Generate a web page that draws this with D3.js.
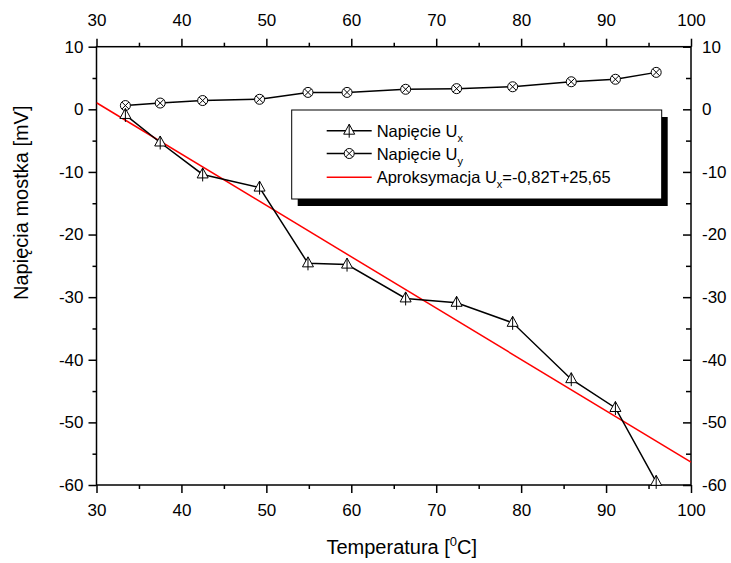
<!DOCTYPE html>
<html>
<head>
<meta charset="utf-8">
<script src="https://cdn.jsdelivr.net/npm/d3@7"></script>
<style>
  html, body { margin: 0; padding: 0; background: #fff; }
  svg { display: block; font-family: "Liberation Sans", Arial, sans-serif; }
</style>
</head>
<body>
<svg id="chart" width="731" height="563"></svg>
<script>
// Temperature of the bridge [°C]
const temperatures = [33.4, 37.5, 42.5, 49.2, 54.9, 59.5, 66.4, 72.4, 79.0, 85.9, 91.1, 95.9];
// Bridge voltage U_x [mV]
const voltageUx = [-0.9, -5.3, -10.4, -12.5, -24.6, -24.8, -30.2, -30.9, -34.1, -43.1, -47.7, -59.5];
// Bridge voltage U_y [mV]
const voltageUy = [0.6, 1.0, 1.4, 1.6, 2.7, 2.7, 3.2, 3.3, 3.6, 4.4, 4.8, 5.9];
// Linear approximation of U_x: U = a*T + b
const fitSlope = -0.82;
const fitIntercept = 25.65;

const xTicks = [30, 40, 50, 60, 70, 80, 90, 100];
const xMinorTicks = [35, 45, 55, 65, 75, 85, 95];
const yTicks = [10, 0, -10, -20, -30, -40, -50, -60];
const yMinorTicks = [5, -5, -15, -25, -35, -45, -55];

const svg = d3.select("#chart");
const plotLeft = 96.5, plotRight = 691, plotTop = 46.7, plotBottom = 485;

const x = d3.scaleLinear().domain([30, 100]).range([plotLeft, plotRight]);
const y = d3.scaleLinear().domain([-60, 10]).range([plotBottom, plotTop]);

const tickFont = 17;
// plain hyphen for negative numbers
const fmt = d => String(d);
const fmtComma = d => d.toFixed(2).replace(".", ",");

function styleAxis(g) {
  g.select(".domain").remove();
  g.selectAll("line").attr("stroke", "#000").attr("stroke-width", 1.5);
  g.selectAll("text").attr("font-size", tickFont).attr("fill", "#000")
    .attr("font-family", "Liberation Sans, Arial, sans-serif");
}

// bottom axis
svg.append("g").attr("transform", `translate(0,${plotBottom})`)
  .call(d3.axisBottom(x).tickValues(xTicks).tickSize(8).tickPadding(11).tickFormat(fmt))
  .call(styleAxis);
svg.append("g").attr("transform", `translate(0,${plotBottom})`)
  .call(d3.axisBottom(x).tickValues(xMinorTicks).tickSize(4).tickFormat(""))
  .call(styleAxis);
// top axis
svg.append("g").attr("transform", `translate(0,${plotTop})`)
  .call(d3.axisTop(x).tickValues(xTicks).tickSize(8).tickPadding(13).tickFormat(fmt))
  .call(styleAxis);
svg.append("g").attr("transform", `translate(0,${plotTop})`)
  .call(d3.axisTop(x).tickValues(xMinorTicks).tickSize(4).tickFormat(""))
  .call(styleAxis);
// left axis
svg.append("g").attr("transform", `translate(${plotLeft},0)`)
  .call(d3.axisLeft(y).tickValues(yTicks).tickSize(8).tickPadding(5).tickFormat(fmt))
  .call(styleAxis);
svg.append("g").attr("transform", `translate(${plotLeft},0)`)
  .call(d3.axisLeft(y).tickValues(yMinorTicks).tickSize(4).tickFormat(""))
  .call(styleAxis);
// right axis (ticks point inward)
svg.append("g").attr("transform", `translate(${plotRight},0)`)
  .call(d3.axisRight(y).tickValues(yTicks).tickSize(-8).tickPadding(11).tickFormat(fmt))
  .call(styleAxis);
svg.append("g").attr("transform", `translate(${plotRight},0)`)
  .call(d3.axisRight(y).tickValues(yMinorTicks).tickSize(-5).tickFormat(""))
  .call(styleAxis);

// frame
svg.append("rect")
  .attr("x", plotLeft).attr("y", plotTop)
  .attr("width", plotRight - plotLeft).attr("height", plotBottom - plotTop)
  .attr("fill", "none").attr("stroke", "#000").attr("stroke-width", 1.5);

// clip for plotted lines
svg.append("clipPath").attr("id", "plotClip")
  .append("rect").attr("x", plotLeft).attr("y", plotTop)
  .attr("width", plotRight - plotLeft).attr("height", plotBottom - plotTop);

// approximation line
const fitPoints = [30, 100].map(t => [t, fitSlope * t + fitIntercept]);
svg.append("path")
  .attr("clip-path", "url(#plotClip)")
  .attr("d", d3.line().x(d => x(d[0])).y(d => y(d[1]))(fitPoints))
  .attr("fill", "none").attr("stroke", "#ff0000").attr("stroke-width", 1.5);

const line = d3.line().x(d => x(d[0])).y(d => y(d[1]));
const uxData = temperatures.map((t, i) => [t, voltageUx[i]]);
const uyData = temperatures.map((t, i) => [t, voltageUy[i]]);

svg.append("path").attr("d", line(uyData))
  .attr("fill", "none").attr("stroke", "#000").attr("stroke-width", 1.5);
svg.append("path").attr("d", line(uxData))
  .attr("fill", "none").attr("stroke", "#000").attr("stroke-width", 1.5);

// marker shapes
function drawTriangle(g) {
  g.append("path").attr("d", "M0,-6.5L5.5,3.5L-5.5,3.5Z")
    .attr("fill", "#fff").attr("stroke", "#000").attr("stroke-width", 1);
  g.append("line").attr("x1", 0).attr("y1", -6.5).attr("x2", 0).attr("y2", 7)
    .attr("stroke", "#000").attr("stroke-width", 1);
}
function drawCrossCircle(g) {
  g.append("circle").attr("r", 5).attr("fill", "#fff")
    .attr("stroke", "#000").attr("stroke-width", 1);
  const k = 3.5;
  g.append("path").attr("d", `M${-k},${-k}L${k},${k}M${-k},${k}L${k},${-k}`)
    .attr("stroke", "#000").attr("stroke-width", 1);
}

svg.append("g").selectAll("g").data(uyData).join("g")
  .attr("transform", d => `translate(${x(d[0])},${y(d[1])})`)
  .each(function () { drawCrossCircle(d3.select(this)); });
svg.append("g").selectAll("g").data(uxData).join("g")
  .attr("transform", d => `translate(${x(d[0])},${y(d[1])})`)
  .each(function () { drawTriangle(d3.select(this)); });

// axis titles
const xTitle = svg.append("text")
  .attr("x", (plotLeft + plotRight) / 2 + 8).attr("y", 554)
  .attr("text-anchor", "middle").attr("font-size", 20).attr("fill", "#000");
xTitle.append("tspan").text("Temperatura [");
xTitle.append("tspan").attr("font-size", 13).attr("dy", -8).text("0");
xTitle.append("tspan").attr("dy", 8).text("C]");

svg.append("text")
  .attr("transform", "translate(28,300) rotate(-90)")
  .attr("text-anchor", "start").attr("font-size", 20).attr("fill", "#000")
  .text("Napięcia mostka [mV]");

// legend
const lg = svg.append("g");
const box = { x: 291.7, y: 110, w: 370, h: 89 };
lg.append("rect").attr("x", box.x + 6).attr("y", box.y + 7)
  .attr("width", box.w).attr("height", box.h).attr("fill", "#000");
lg.append("rect").attr("x", box.x).attr("y", box.y)
  .attr("width", box.w).attr("height", box.h)
  .attr("fill", "#fff").attr("stroke", "#000").attr("stroke-width", 1);

const legendRows = [
  { kind: "ux", label: "Napięcie U", sub: "x", rest: "" },
  { kind: "uy", label: "Napięcie U", sub: "y", rest: "" },
  { kind: "fit", label: "Aproksymacja U", sub: "x", rest: `=${fmtComma(fitSlope)}T+${fmtComma(fitIntercept)}` }
];
const rowY = [130.7, 153.5, 177.3];
legendRows.forEach((r, i) => {
  const yy = rowY[i];
  lg.append("line").attr("x1", 326.7).attr("x2", 371.7).attr("y1", yy).attr("y2", yy)
    .attr("stroke", r.kind === "fit" ? "#ff0000" : "#000").attr("stroke-width", 1.5);
  if (r.kind !== "fit") {
    const m = lg.append("g").attr("transform", `translate(349.2,${yy})`);
    if (r.kind === "ux") drawTriangle(m); else drawCrossCircle(m);
  }
  const t = lg.append("text").attr("x", 376.7).attr("y", yy + 6)
    .attr("font-size", 16.5).attr("fill", "#000");
  t.append("tspan").text(r.label);
  t.append("tspan").attr("font-size", 11).attr("dy", 5).text(r.sub);
  if (r.rest) t.append("tspan").attr("dy", -5).text(r.rest);
});
</script>
</body>
</html>
